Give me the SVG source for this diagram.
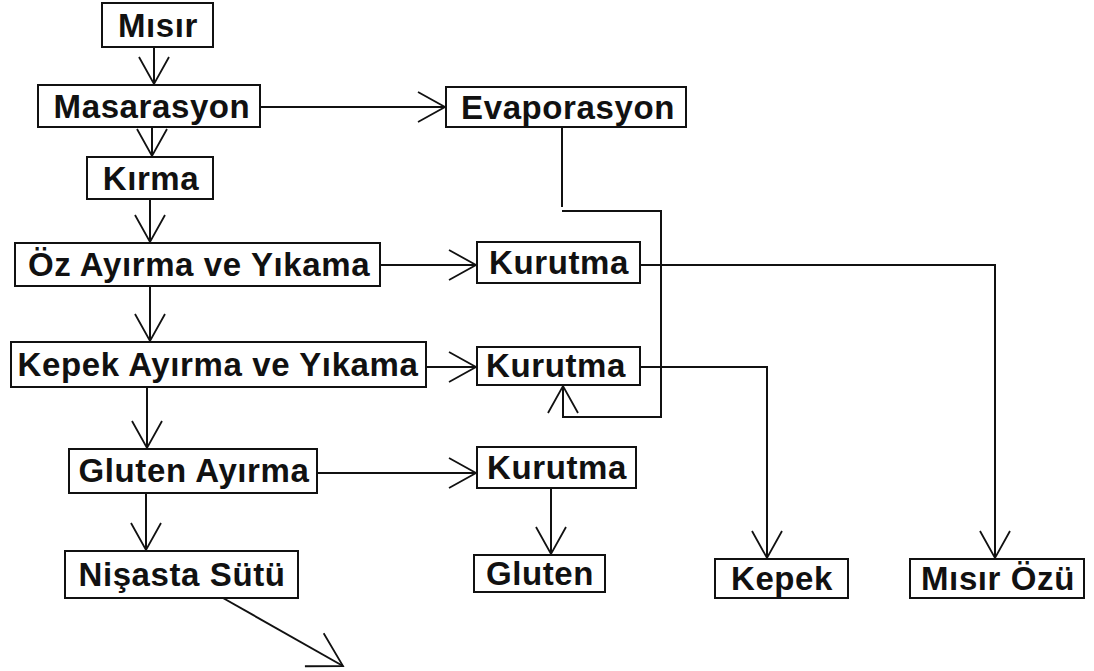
<svg xmlns="http://www.w3.org/2000/svg" width="1094" height="671" viewBox="0 0 1094 671">
<style>
.box{fill:#fff;stroke:#111;stroke-width:2}
.lbl{font-family:"Liberation Sans",Arial,sans-serif;font-weight:bold;font-size:33px;letter-spacing:0.6px;fill:#111;text-anchor:middle}
.cn{fill:none;stroke:#111;stroke-width:2}
</style>
<defs>
<marker id="ah" markerUnits="userSpaceOnUse" viewBox="-32 -18 34 36" refX="0" refY="0" markerWidth="34" markerHeight="36" orient="auto">
<path d="M-27,-15 L0,0 L-27,15" fill="none" stroke="#111" stroke-width="1.8"/>
</marker>
<marker id="ahb" markerUnits="userSpaceOnUse" viewBox="-40 -22 42 44" refX="0" refY="0" markerWidth="42" markerHeight="44" orient="auto">
<path d="M-33,-19 L0,0 L-33,19" fill="none" stroke="#111" stroke-width="1.8"/>
</marker>
</defs>
<rect width="1094" height="671" fill="#fff"/>
<g id="connectors">
<path class="cn" d="M154,47 V84" marker-end="url(#ah)"/>
<path class="cn" d="M152,127 V156" marker-end="url(#ah)"/>
<path class="cn" d="M260,107 H445" marker-end="url(#ah)"/>
<path class="cn" d="M150,199 V242" marker-end="url(#ah)"/>
<path class="cn" d="M380,265 H476" marker-end="url(#ah)"/>
<path class="cn" d="M150,286 V341" marker-end="url(#ah)"/>
<path class="cn" d="M426,367 H476" marker-end="url(#ah)"/>
<path class="cn" d="M147,387 V448" marker-end="url(#ah)"/>
<path class="cn" d="M317,473 H476" marker-end="url(#ah)"/>
<path class="cn" d="M146,493 V550" marker-end="url(#ah)"/>
<path class="cn" d="M223,598 L343,666" marker-end="url(#ahb)"/>
<path class="cn" d="M551,488 V554" marker-end="url(#ah)"/>
<path class="cn" d="M640,367 H767 V558" marker-end="url(#ah)"/>
<path class="cn" d="M640,265 H995 V558" marker-end="url(#ah)"/>
<path class="cn" d="M562,127 V207"/>
<path class="cn" d="M562,211 H661 V417 H563 V386" marker-end="url(#ah)"/>
</g>
<g id="n-misir"><rect class="box" x="102" y="3" width="111" height="44"/><text class="lbl" x="158" y="37">Mısır</text></g>
<g id="n-masarasyon"><rect class="box" x="38" y="85" width="222" height="42"/><text class="lbl" x="152" y="118">Masarasyon</text></g>
<g id="n-evaporasyon"><rect class="box" x="446" y="87" width="240" height="40"/><text class="lbl" x="568" y="119">Evaporasyon</text></g>
<g id="n-kirma"><rect class="box" x="87" y="157" width="126" height="42"/><text class="lbl" x="151" y="190">Kırma</text></g>
<g id="n-oz"><rect class="box" x="15" y="243" width="365" height="43"/><text class="lbl" x="199" y="276">Öz Ayırma ve Yıkama</text></g>
<g id="n-kurutma1"><rect class="box" x="477" y="242" width="163" height="41"/><text class="lbl" x="559" y="274">Kurutma</text></g>
<g id="n-kepekayirma"><rect class="box" x="11" y="342" width="415" height="45"/><text class="lbl" x="218" y="376">Kepek Ayırma ve Yıkama</text></g>
<g id="n-kurutma2"><rect class="box" x="477" y="347" width="163" height="38"/><text class="lbl" x="556" y="377">Kurutma</text></g>
<g id="n-glutenayirma"><rect class="box" x="69" y="449" width="248" height="44"/><text class="lbl" x="194" y="482">Gluten Ayırma</text></g>
<g id="n-kurutma3"><rect class="box" x="477" y="447" width="159" height="41"/><text class="lbl" x="557" y="479">Kurutma</text></g>
<g id="n-nisasta"><rect class="box" x="65" y="551" width="233" height="47"/><text class="lbl" x="182" y="586">Nişasta Sütü</text></g>
<g id="n-gluten"><rect class="box" x="474" y="555" width="131" height="37"/><text class="lbl" x="540" y="585">Gluten</text></g>
<g id="n-kepek"><rect class="box" x="715" y="559" width="133" height="39"/><text class="lbl" x="782" y="590">Kepek</text></g>
<g id="n-misirozu"><rect class="box" x="910" y="559" width="174" height="39"/><text class="lbl" x="998" y="590">Mısır Özü</text></g>
</svg>
